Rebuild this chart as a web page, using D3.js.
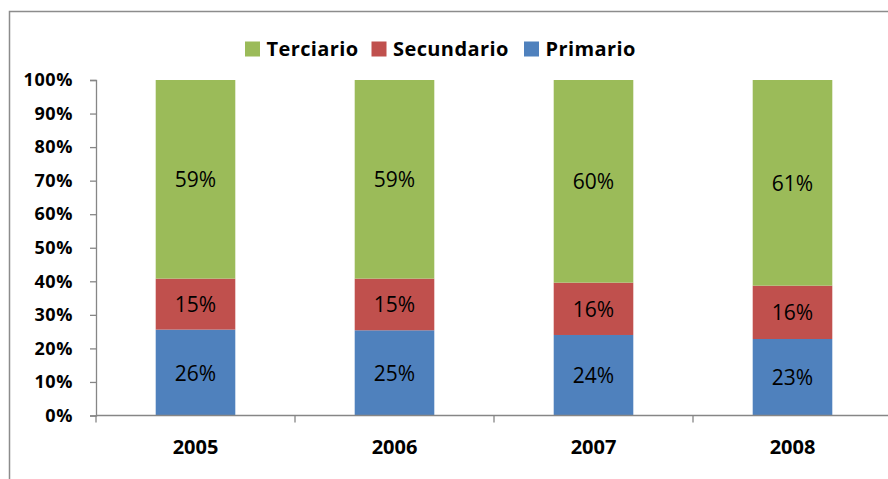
<!DOCTYPE html>
<html><head><meta charset="utf-8">
<script src="https://cdn.jsdelivr.net/npm/d3@7"></script>
<style>
html,body{margin:0;padding:0;background:#fff;}
svg{display:block;}
</style>
</head><body>
<svg id="c" width="888" height="479"></svg>
<script>
const years = ["2005", "2006", "2007", "2008"];
const primario = [0.256, 0.254, 0.240, 0.228];
const secundario = [0.152, 0.154, 0.156, 0.159];
const terciario = [0.592, 0.592, 0.604, 0.613];
const seriesNames = ["Primario", "Secundario", "Terciario"];
const seriesColors = ["#4F81BD", "#C0504D", "#9BBB59"];
const yTicks = [0, 0.1, 0.2, 0.3, 0.4, 0.5, 0.6, 0.7, 0.8, 0.9, 1.0];
const legendOrder = ["Terciario", "Secundario", "Primario"];

const svg = d3.select("#c");
const font = "'Open Sans', Lato, sans-serif";

// outer border
svg.append("rect").attr("x", 9.5).attr("y", 11.5).attr("width", 900).attr("height", 500)
  .attr("fill", "none").attr("stroke", "#8c8c8c").attr("stroke-width", 1.5);

const x = d3.scaleBand().domain(years).range([96, 892]).paddingInner(0.6).paddingOuter(0.3);
const y = d3.scaleLinear().domain([0, 1]).range([415.5, 80]);

const table = years.map((yr, i) => ({year: yr, Primario: primario[i], Secundario: secundario[i], Terciario: terciario[i]}));
const stacked = d3.stack().keys(seriesNames)(table);
const color = d3.scaleOrdinal().domain(seriesNames).range(seriesColors);

// y axis
const yAxis = svg.append("g").attr("transform", "translate(96,0)")
  .call(d3.axisLeft(y).tickValues(yTicks).tickFormat(d3.format(".0%")).tickSize(6).tickPadding(17));
yAxis.selectAll("path,line").attr("stroke", "#868686").attr("stroke-width", 1.3);
yAxis.selectAll("text").attr("font-family", font).attr("font-weight", "bold").attr("font-size", 18)
  .attr("letter-spacing", 0.6).attr("fill", "#000");

// bars
const layers = svg.append("g").selectAll("g").data(stacked).join("g")
  .attr("fill", d => color(d.key));
layers.selectAll("rect").data(d => d).join("rect")
  .attr("x", d => x(d.data.year)).attr("width", x.bandwidth())
  .attr("y", d => y(d[1])).attr("height", d => y(d[0]) - y(d[1]));

// data labels
const labels = svg.append("g");
stacked.forEach(layer => {
  layer.forEach(d => {
    labels.append("text")
      .attr("x", x(d.data.year) + x.bandwidth() / 2)
      .attr("y", (y(d[0]) + y(d[1])) / 2)
      .attr("dy", "0.38em")
      .attr("text-anchor", "middle")
      .attr("font-family", font).attr("font-size", 21).attr("fill", "#000")
      .text(d3.format(".0%")(d[1] - d[0]));
  });
});

// x axis
const xg = svg.append("g");
xg.append("line").attr("x1", 96).attr("x2", 892).attr("y1", y(0)).attr("y2", y(0))
  .attr("stroke", "#868686").attr("stroke-width", 1.3);
const bounds = years.map(d => x(d) - x.step() * x.paddingOuter()).concat([x(years[years.length - 1]) + x.bandwidth() + x.step() * x.paddingOuter()]);
xg.selectAll("line.tk").data(bounds).join("line").attr("class", "tk")
  .attr("x1", d => d).attr("x2", d => d).attr("y1", y(0)).attr("y2", y(0) + 7)
  .attr("stroke", "#868686").attr("stroke-width", 1.3);
xg.selectAll("text").data(years).join("text")
  .attr("x", d => x(d) + x.bandwidth() / 2).attr("y", 454)
  .attr("text-anchor", "middle")
  .attr("font-family", font).attr("font-weight", "bold").attr("font-size", 20).attr("fill", "#000")
  .text(d => d);

// legend
const legendX = [245, 371.5, 524];
const lg = svg.append("g");
legendOrder.forEach((name, i) => {
  lg.append("rect").attr("x", legendX[i]).attr("y", 41.5).attr("width", 15).attr("height", 15)
    .attr("fill", color(name));
  lg.append("text").attr("x", legendX[i] + 21.5).attr("y", 56)
    .attr("font-family", font).attr("font-weight", "bold").attr("font-size", 20)
    .attr("letter-spacing", 0.4).attr("fill", "#000")
    .text(name);
});
</script>
</body></html>
